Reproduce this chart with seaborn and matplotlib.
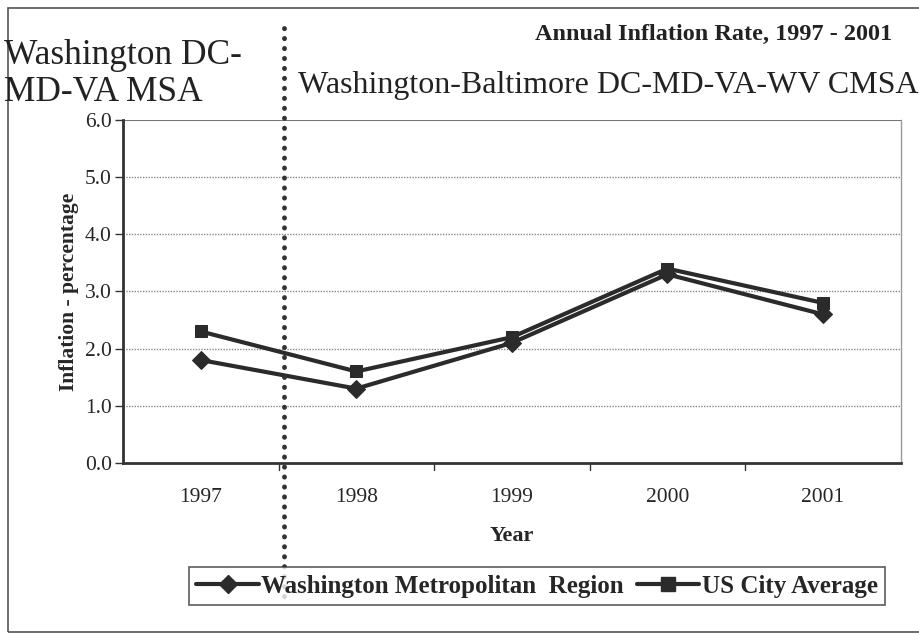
import matplotlib
matplotlib.use("Agg")
import matplotlib.pyplot as plt
import seaborn as sns
import pandas as pd
from matplotlib.lines import Line2D
from matplotlib.patches import Rectangle

years = ["1997", "1998", "1999", "2000", "2001"]
washington = [1.8, 1.3, 2.1, 3.3, 2.6]
us_city = [2.3, 1.6, 2.2, 3.4, 2.8]
series_names = ["Washington Metropolitan  Region", "US City Average"]
y_ticks = [0.0, 1.0, 2.0, 3.0, 4.0, 5.0, 6.0]

df = pd.DataFrame({
    "Year": years * 2,
    "Inflation": washington + us_city,
    "Series": [series_names[0]] * len(years) + [series_names[1]] * len(years),
})

sns.set_style("white")
plt.rcParams["font.family"] = ["Liberation Serif", "DejaVu Serif"]

fig = plt.figure(figsize=(9.2, 6.35), dpi=100)
ax = fig.add_axes([0.1337, 0.271, 0.979 - 0.1337, 0.811 - 0.271])

sns.lineplot(data=df, x="Year", y="Inflation", hue="Series", style="Series",
             palette=["#2b2b2b", "#2b2b2b"], markers=["D", "s"], dashes=False,
             linewidth=3, markersize=9, markeredgecolor="#2b2b2b",
             ax=ax, legend=False, sort=False)

ax.set_xlim(-0.5, 4.5)
ax.set_ylim(0, 6)
ax.set_yticks(y_ticks)
ax.set_yticklabels([f"{v:.1f}" for v in y_ticks], fontsize=15.5)
ax.set_xticks(range(len(years)))
ax.set_xticklabels(years, fontsize=15.5)
ax.tick_params(axis="x", length=0, pad=18)
ax.tick_params(axis="y", length=6, width=1, color="#333333", left=True, pad=2)
# boundary ticks on x axis
for b in [0.5, 1.5, 2.5, 3.5]:
    ax.plot([b, b], [0, -0.12], color="#333333", lw=1, clip_on=False)

for v in y_ticks[1:-1]:
    ax.axhline(v, color="#888888", lw=1, ls=(0, (1, 1)), zorder=0)
ax.axhline(6, color="#777777", lw=1.5, zorder=0)

for s in ["left", "bottom"]:
    ax.spines[s].set_color("#333333")
    ax.spines[s].set_linewidth(2)
ax.spines["top"].set_visible(False)
ax.spines["right"].set_color("#999999")
ax.spines["right"].set_linestyle((0, (1, 1)))
ax.spines["right"].set_linewidth(1)

ax.set_xlabel("Year", fontsize=16, fontweight="bold", labelpad=14)
ax.set_ylabel("Inflation - percentage", fontsize=15.5, fontweight="bold", labelpad=4)

# Titles
fig.text(0.97, 0.945, "Annual Inflation Rate, 1997 - 2001", ha="right", va="center",
         fontsize=17.5, fontweight="bold", color="#222222")
fig.text(0.004, 0.884, "Washington DC-\nMD-VA MSA", ha="left", va="center",
         fontsize=25.5, color="#222222", linespacing=1.15)
fig.text(0.998, 0.866, "Washington-Baltimore DC-MD-VA-WV CMSA", ha="right", va="center",
         fontsize=23, color="#222222")

# dotted separator
fig.add_artist(Line2D([284 / 920, 284 / 920], [1 - 28 / 635, 1 - 602 / 635],
                      transform=fig.transFigure, color="#333333", lw=3.5,
                      ls=(0, (0.05, 2.0)), solid_capstyle="round",
                      dash_capstyle="round"))

# outer frame
fig.add_artist(Rectangle((8 / 920, 1 - 632 / 635), 1.2, (632 - 8) / 635,
                         transform=fig.transFigure, fill=False,
                         edgecolor="#555555", lw=1.2))

handles = [
    Line2D([], [], color="#2b2b2b", lw=3, marker="D", markersize=9),
    Line2D([], [], color="#2b2b2b", lw=3, marker="s", markersize=10),
]
leg = fig.legend(handles, series_names, loc="center", bbox_to_anchor=(537 / 920, 1 - 586 / 635),
                 ncol=2, frameon=True, fancybox=False, edgecolor="#333333",
                 prop={"family": ["Liberation Serif"], "weight": "bold", "size": 18},
                 handlelength=2.5, handletextpad=0.1, columnspacing=0.5,
                 borderpad=0.3)
leg.get_frame().set_linewidth(1.2)

fig.savefig("out.png", dpi=100)
